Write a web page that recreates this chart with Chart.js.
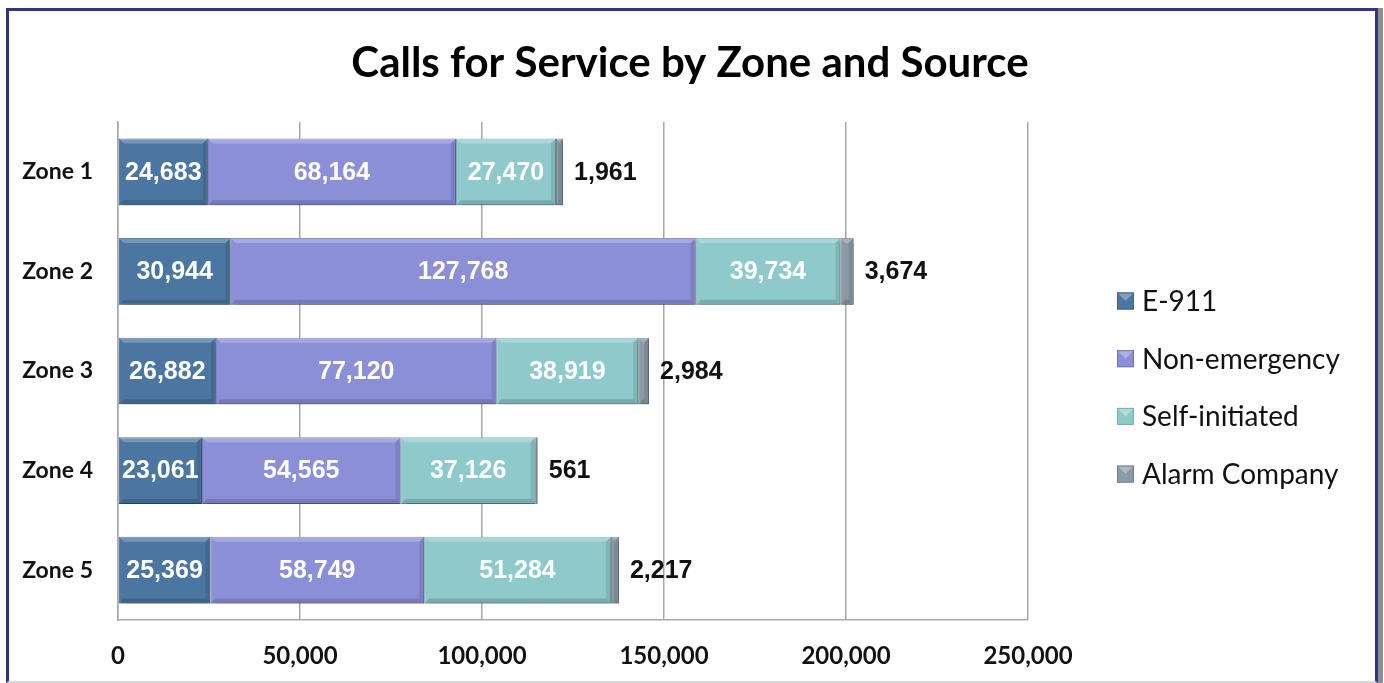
<!DOCTYPE html>
<html>
<head>
<meta charset="utf-8">
<title>Calls for Service by Zone and Source</title>
<script src="https://cdn.jsdelivr.net/npm/chart.js@4.4.1/dist/chart.umd.min.js"></script>
<style>
  html, body { margin: 0; padding: 0; background: #fff; }
  #wrap { position: relative; width: 1384px; height: 683px; overflow: hidden; }
  #chart { position: absolute; left: 0; top: 0; }
  /* picture frame around the chart */
  #frame {
    position: absolute; left: 6px; top: 8px; width: 1366px; height: 670px;
    border-left: 3px solid #2e3581; border-top: 3px solid #2e3581;
    border-right: 3px solid #2e3581; border-bottom: 2px solid #d8d8d8;
    box-shadow: 5px 0 0 #8e8e8e;
    pointer-events: none;
  }
</style>
</head>
<body>
<div id="wrap">
  <canvas id="chart" width="1384" height="683"></canvas>
  <div id="frame"></div>
</div>
<script>
// Chart data
const chartTitle = "Calls for Service by Zone and Source";
const zones = ["Zone 1", "Zone 2", "Zone 3", "Zone 4", "Zone 5"];
const e911 = [24683, 30944, 26882, 23061, 25369];
const nonEmergency = [68164, 127768, 77120, 54565, 58749];
const selfInitiated = [27470, 39734, 38919, 37126, 51284];
const alarmCompany = [1961, 3674, 2984, 561, 2217];
const xTicks = [0, 50000, 100000, 150000, 200000, 250000];

const seriesColors = ["#4a76a1", "#8a8fd7", "#8ecacb", "#8b9aa6"];
const seriesBorders = ["#3b628a", "#7176bd", "#74b0b2", "#707f8b"];

const fmt = (v) => Number(v).toLocaleString("en-US");

/**
 * Title centred over the whole frame
 */
const frameTitle = {
  id: "frameTitle",
  afterDraw(chart) {
    const ctx = chart.ctx;
    ctx.save();
    ctx.font = "bold 42px Lato, 'Open Sans', sans-serif";
    ctx.fillStyle = "#000";
    ctx.textAlign = "center";
    ctx.textBaseline = "middle";
    ctx.fillText(chartTitle, 690, 63);
    ctx.restore();
  },
};

/**
 * Soft drop shadow under the bars
 */
const barShadow = {
  id: "barShadow",
  beforeDatasetsDraw(chart) {
    const ctx = chart.ctx;
    ctx.save();
    ctx.shadowColor = "rgba(0, 0, 0, 0.28)";
    ctx.shadowBlur = 5;
    ctx.shadowOffsetX = 2;
    ctx.shadowOffsetY = 3;
  },
  afterDatasetsDraw(chart) {
    chart.ctx.restore();
  },
};

/**
 * Bevel highlights on each bar segment
 */
const barBevel = {
  id: "barBevel",
  afterDatasetsDraw(chart) {
    const ctx = chart.ctx;
    chart.data.datasets.forEach((ds, i) => {
      const meta = chart.getDatasetMeta(i);
      meta.data.forEach((bar) => {
        const left = Math.min(bar.base, bar.x);
        const right = Math.max(bar.base, bar.x);
        const top = bar.y - bar.height / 2;
        const bottom = bar.y + bar.height / 2;
        const w = right - left;
        if (w < 4) return;
        const b = 5;
        ctx.save();
        // top light edge
        ctx.fillStyle = "rgba(255, 255, 255, 0.24)";
        ctx.beginPath();
        ctx.moveTo(left, top);
        ctx.lineTo(right, top);
        ctx.lineTo(right - b, top + b);
        ctx.lineTo(left + b, top + b);
        ctx.closePath();
        ctx.fill();
        // bottom dark edge
        ctx.fillStyle = "rgba(0, 0, 0, 0.15)";
        ctx.beginPath();
        ctx.moveTo(left, bottom);
        ctx.lineTo(right, bottom);
        ctx.lineTo(right - b, bottom - b);
        ctx.lineTo(left + b, bottom - b);
        ctx.closePath();
        ctx.fill();
        // right dark edge
        ctx.fillStyle = "rgba(0, 0, 0, 0.1)";
        ctx.beginPath();
        ctx.moveTo(right, top);
        ctx.lineTo(right, bottom);
        ctx.lineTo(right - b, bottom - b);
        ctx.lineTo(right - b, top + b);
        ctx.closePath();
        ctx.fill();
        ctx.restore();
      });
    });
  },
};

/**
 * Value labels: white inside the segments, black after the last one
 */
const valueLabels = {
  id: "valueLabels",
  afterDatasetsDraw(chart) {
    const ctx = chart.ctx;
    const last = chart.data.datasets.length - 1;
    ctx.save();
    ctx.font = "bold 25px 'Liberation Sans', Arial, sans-serif";
    ctx.textBaseline = "middle";
    chart.data.datasets.forEach((ds, i) => {
      const meta = chart.getDatasetMeta(i);
      meta.data.forEach((bar, j) => {
        const text = fmt(ds.data[j]);
        if (i === last) {
          ctx.fillStyle = "#111";
          ctx.textAlign = "left";
          ctx.fillText(text, bar.x + 11, bar.y + 1);
        } else {
          ctx.fillStyle = "#fff";
          ctx.textAlign = "center";
          ctx.fillText(text, (bar.x + bar.base) / 2, bar.y + 1);
        }
      });
    });
    ctx.restore();
  },
};

/**
 * Legend drawn at the right of the plot
 */
const sideLegend = {
  id: "sideLegend",
  afterDraw(chart) {
    const ctx = chart.ctx;
    const boxX = 1117;
    const textX = 1142;
    const startY = 301;
    const step = 57.7;
    const box = 17;
    ctx.save();
    ctx.font = "28px Lato, 'Open Sans', sans-serif";
    ctx.textAlign = "left";
    ctx.textBaseline = "middle";
    chart.data.datasets.forEach((ds, i) => {
      const y = startY + i * step;
      ctx.fillStyle = ds.backgroundColor;
      ctx.fillRect(boxX, y - box / 2, box, box);
      ctx.strokeStyle = ds.borderColor;
      ctx.lineWidth = 1;
      ctx.strokeRect(boxX + 0.5, y - box / 2 + 0.5, box - 1, box - 1);
      ctx.fillStyle = "rgba(255, 255, 255, 0.3)";
      ctx.beginPath();
      ctx.moveTo(boxX + 1, y - box / 2 + 1);
      ctx.lineTo(boxX + box - 1, y - box / 2 + 1);
      ctx.lineTo(boxX + box / 2, y);
      ctx.closePath();
      ctx.fill();
      ctx.fillStyle = "#111";
      ctx.fillText(ds.label, textX, y + 1);
    });
    ctx.restore();
  },
};

const makeSet = (label, data, i) => ({
  label,
  data,
  backgroundColor: seriesColors[i],
  borderColor: seriesBorders[i],
  borderWidth: 1,
  borderSkipped: false,
  barPercentage: 0.67,
  categoryPercentage: 1,
});

new Chart(document.getElementById("chart"), {
  type: "bar",
  data: {
    labels: zones,
    datasets: [
      makeSet("E-911", e911, 0),
      makeSet("Non-emergency", nonEmergency, 1),
      makeSet("Self-initiated", selfInitiated, 2),
      makeSet("Alarm Company", alarmCompany, 3),
    ],
  },
  options: {
    indexAxis: "y",
    responsive: false,
    animation: false,
    devicePixelRatio: 1,
    layout: { padding: { left: 0, right: 356, top: 122, bottom: 0 } },
    plugins: {
      legend: { display: false },
      tooltip: { enabled: false },
      title: { display: false },
    },
    scales: {
      x: {
        stacked: true,
        min: 0,
        max: 250000,
        afterBuildTicks(scale) {
          scale.ticks = xTicks.map((v) => ({ value: v }));
        },
        afterFit(scale) {
          scale.height = 63;
        },
        grid: { color: "#a8a8a8", lineWidth: 1.5, drawTicks: false },
        border: { color: "#a8a8a8", width: 1.5 },
        ticks: {
          color: "#111",
          padding: 22,
          maxRotation: 0,
          font: { family: "Lato, 'Open Sans', sans-serif", size: 24, weight: "bold" },
          callback: (v) => fmt(v),
        },
      },
      y: {
        stacked: true,
        afterFit(scale) {
          scale.width = 118;
        },
        grid: { display: false, drawTicks: false },
        border: { color: "#a8a8a8", width: 1.5 },
        ticks: {
          color: "#111",
          padding: 25,
          font: { family: "Lato, 'Open Sans', sans-serif", size: 23, weight: "bold" },
        },
      },
    },
  },
  plugins: [barShadow, barBevel, valueLabels, sideLegend, frameTitle],
});
</script>
</body>
</html>
